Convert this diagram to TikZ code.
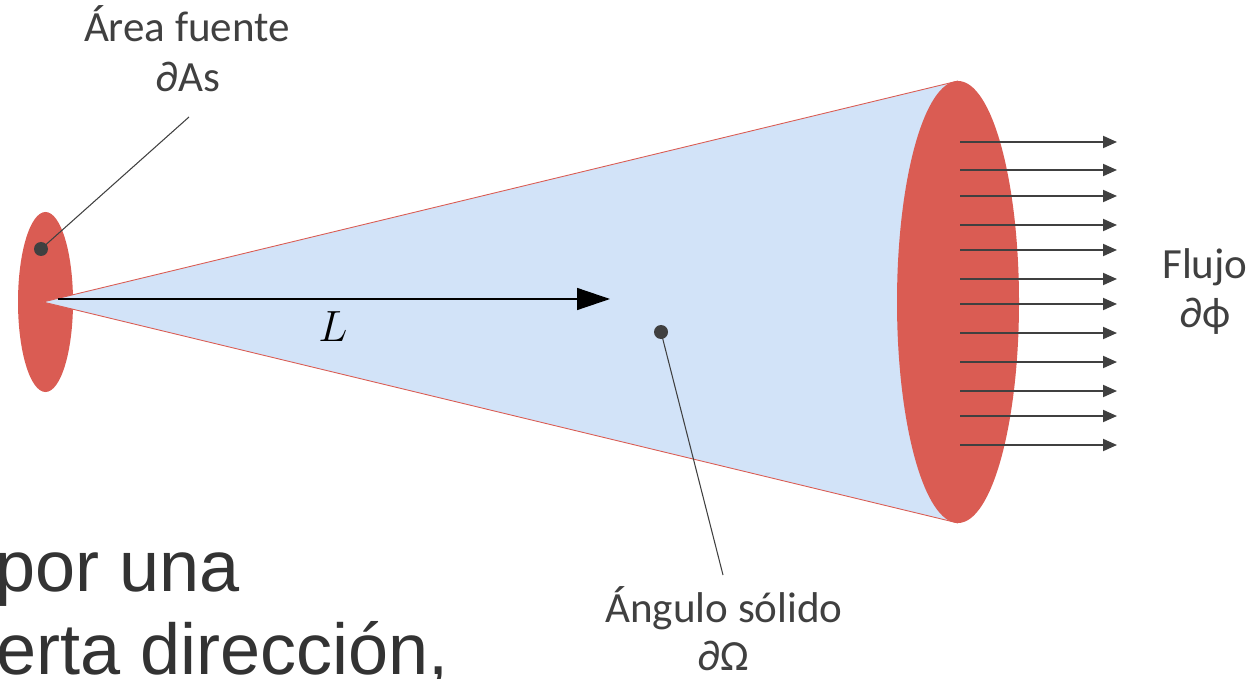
\documentclass[tikz,border=0pt]{standalone}
\usepackage{fontspec}
\setmainfont{Carlito}
\newfontfamily\slidefont{Liberation Sans}
\usetikzlibrary{arrows.meta}
\definecolor{srcred}{HTML}{DA5C53}
\definecolor{conefill}{HTML}{D2E3F8}
\definecolor{lblgray}{HTML}{404040}
\definecolor{slidetxt}{HTML}{333333}

\tikzset{
  lbl/.style={text=lblgray, font=\fontsize{24.5}{29}\selectfont, anchor=base, inner sep=0pt},
  slide/.style={text=slidetxt, font=\slidefont\fontsize{41}{49}\selectfont, anchor=base west, inner sep=0pt},
  leader/.style={lblgray, line width=0.6pt},
  blackdot/.style={circle, fill=lblgray, inner sep=0pt, minimum size=0.28cm},
  fluxarrow/.style={lblgray, line width=1.1pt, -{Triangle[length=2.8mm, width=2.4mm]}}
}

\begin{document}
\begin{tikzpicture}
\useasboundingbox (0,0) rectangle (25,13.56);
\clip (0,0) rectangle (25,13.56);

% =====================================================
% Source area and cone
% =====================================================
\fill[srcred] (0.91,7.52) ellipse (0.55 and 1.80);

\coordinate (apex) at (0.86,7.52);
\coordinate (rimtop) at (19.16,11.94);
\coordinate (rimbot) at (19.16,3.10);
\fill[conefill] (apex) -- (rimtop) -- (rimbot) -- cycle;
\draw[srcred, line width=0.5pt] (rimtop) -- (apex) -- (rimbot);

% Receiving area
\fill[srcred] (19.16,7.52) ellipse (1.22 and 4.42);

% Flux arrows
\foreach \y in {10.72, 10.16, 9.64, 9.06, 8.56, 7.98, 7.48, 6.90, 6.32, 5.74, 5.24, 4.66}
  \draw[fluxarrow] (19.2,\y) -- (22.34,\y);

% Distance L
\coordinate (Lstart) at (1.16,7.58);
\coordinate (Lend) at (12.2,7.58);
\draw[black, line width=0.8pt, -{Triangle[length=6.6mm, width=4.4mm]}] (Lstart) -- (Lend);
\node[font=\fontsize{27}{32}\selectfont] (dist) at (6.66,7.02) {$L$};

% =====================================================
% Labels
% =====================================================
\node[lbl] (srclbl) at (3.74,12.72) {Área fuente};
\node[lbl] (srcsym) at (3.76,11.72) {∂As};
\node[blackdot] (srcdot) at (0.82,8.58) {};
\coordinate (srcend) at (3.78,11.22);
\draw[leader] (srcdot.center) -- (srcend);

\node[blackdot] (angdot) at (13.22,6.92) {};
\node[lbl] (anglbl) at (14.48,1.12) {Ángulo sólido};
\node[lbl] (angsym) at (14.46,0.16) {∂Ω};
\coordinate (angend) at (14.46,2.06);
\draw[leader] (angdot.center) -- (angend);

\node[lbl] (fluxlbl) at (24.1,8.0) {Flujo};
\node[lbl] (fluxsym) at (24.1,7.0) {∂ϕ};

% Slide text behind the figure
\node[slide] (line1) at (-0.1,1.74) {por una};
\node[slide] (line2) at (-0.08,0.08) {erta dirección,};

\end{tikzpicture}
\end{document}
